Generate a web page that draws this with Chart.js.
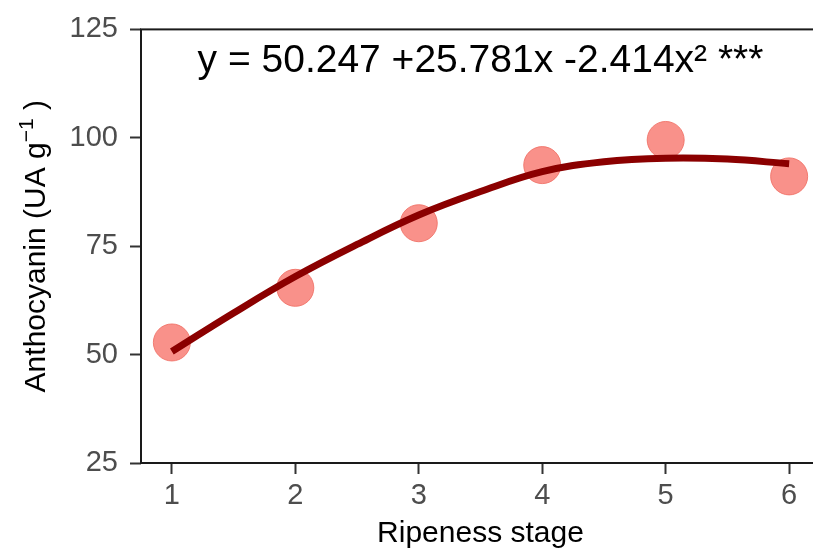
<!DOCTYPE html>
<html>
<head>
<meta charset="utf-8">
<script src="https://cdn.jsdelivr.net/npm/chart.js@4"></script>
<style>
  html, body { margin: 0; padding: 0; background: #fff; overflow: hidden; }
  #wrap { width: 813px; height: 552px; overflow: hidden; position: relative; }
  #chart { display: block; position: absolute; left: 0; top: 0; }
</style>
</head>
<body>
<!-- canvas is a bit wider than the page: the original panel is cut off on the right -->
<div id="wrap"><canvas id="chart" width="830" height="552"></canvas></div>
<script>
// --------------------- Data ---------------------
const stages = [1, 2, 3, 4, 5, 6];
const anthocyanin = [52.8, 65.4, 80.3, 93.7, 99.5, 91.1];

// fitted curve
const fitX = [1, 1.5, 2, 2.5, 3, 3.5, 4, 4.5, 5, 5.5, 6];
const fitY = [50.7, 59.6, 68.0, 75.4, 82.2, 87.6, 92.2, 94.5, 95.3, 95.1, 94.0];

const xTicks = [1, 2, 3, 4, 5, 6];
const yTicks = [25, 50, 75, 100, 125];

const equation = "y = 50.247 +25.781x -2.414x\u00B2 ***";
const eqPos = { x: 3.5, y: 115.2 };

const FONT = "'Liberation Sans', Arial, Helvetica, sans-serif";

// --------------------- Plugins ---------------------
// panel box (ggplot-like border)
const panelBorder = {
  id: 'panelBorder',
  afterDraw(chart) {
    const { ctx, chartArea: a } = chart;
    ctx.save();
    ctx.strokeStyle = '#1a1a1a';
    ctx.lineWidth = 2;
    ctx.strokeRect(a.left, a.top, a.right - a.left, a.bottom - a.top);
    ctx.restore();
  }
};

// equation label inside the panel
const eqLabel = {
  id: 'eqLabel',
  afterDatasetsDraw(chart) {
    const { ctx, scales } = chart;
    ctx.save();
    ctx.font = '39px ' + FONT;
    ctx.fillStyle = '#000';
    ctx.textAlign = 'center';
    ctx.textBaseline = 'alphabetic';
    ctx.fillText(equation, scales.x.getPixelForValue(eqPos.x), scales.y.getPixelForValue(eqPos.y));
    ctx.restore();
  }
};

// y title with superscript -1
const yTitle = {
  id: 'yTitle',
  afterDraw(chart) {
    const { ctx, chartArea: a } = chart;
    const main = 'Anthocyanin (UA g';
    const sup = '\u22121';
    const tail = ' )';
    ctx.save();
    ctx.font = '30px ' + FONT;
    const w1 = ctx.measureText(main).width;
    const w3 = ctx.measureText(tail).width;
    ctx.font = '21px ' + FONT;
    const w2 = ctx.measureText(sup).width;
    const total = w1 + w2 + w3;
    const cy = (a.top + a.bottom) / 2;
    ctx.translate(45, cy);
    ctx.rotate(-Math.PI / 2);
    ctx.fillStyle = '#000';
    ctx.textBaseline = 'alphabetic';
    ctx.textAlign = 'left';
    let x = -total / 2;
    ctx.font = '30px ' + FONT;
    ctx.fillText(main, x, 0);
    x += w1;
    ctx.font = '21px ' + FONT;
    ctx.fillText(sup, x, -12);
    x += w2;
    ctx.font = '30px ' + FONT;
    ctx.fillText(tail, x, 0);
    ctx.restore();
  }
};

// --------------------- Chart ---------------------
const ctx = document.getElementById('chart').getContext('2d');
new Chart(ctx, {
  type: 'scatter',
  data: {
    datasets: [
      {
        type: 'line',
        label: 'fit',
        data: fitX.map((x, i) => ({ x, y: fitY[i] })),
        borderColor: '#8B0000',
        borderWidth: 7,
        borderCapStyle: 'butt',
        pointRadius: 0,
        tension: 0.4,
        fill: false
      },
      {
        label: 'Anthocyanin',
        data: stages.map((x, i) => ({ x, y: anthocyanin[i] })),
        backgroundColor: 'rgba(248,118,109,0.8)',
        borderColor: 'rgba(240,110,100,0.85)',
        borderWidth: 1,
        pointRadius: 18.5,
        pointHoverRadius: 18.5
      }
    ]
  },
  options: {
    responsive: false,
    animation: false,
    devicePixelRatio: 1,
    layout: { autoPadding: false, padding: { top: 29, right: 10, left: 0, bottom: 0 } },
    plugins: {
      legend: { display: false },
      tooltip: { enabled: false }
    },
    scales: {
      x: {
        type: 'linear',
        min: 0.75,
        max: 6.25,
        afterBuildTicks: (s) => { s.ticks = xTicks.map(v => ({ value: v })); },
        afterFit: (s) => { s.height = 89; },
        border: { display: false },
        grid: { drawOnChartArea: false, drawTicks: true, tickLength: 11, tickColor: '#333', tickWidth: 2 },
        ticks: { color: '#4D4D4D', font: { family: FONT, size: 29 }, padding: 5, maxRotation: 0 },
        title: {
          display: true,
          text: 'Ripeness stage',
          color: '#000',
          font: { family: FONT, size: 30 },
          padding: { top: 0, bottom: 0 }
        }
      },
      y: {
        type: 'linear',
        min: 25,
        max: 125,
        afterBuildTicks: (s) => { s.ticks = yTicks.map(v => ({ value: v })); },
        afterFit: (s) => { s.width = 141; },
        border: { display: false },
        grid: { drawOnChartArea: false, drawTicks: true, tickLength: 11, tickColor: '#333', tickWidth: 2 },
        ticks: { color: '#4D4D4D', font: { family: FONT, size: 29 }, padding: 12 }
      }
    }
  },
  plugins: [panelBorder, eqLabel, yTitle]
});
</script>
</body>
</html>
